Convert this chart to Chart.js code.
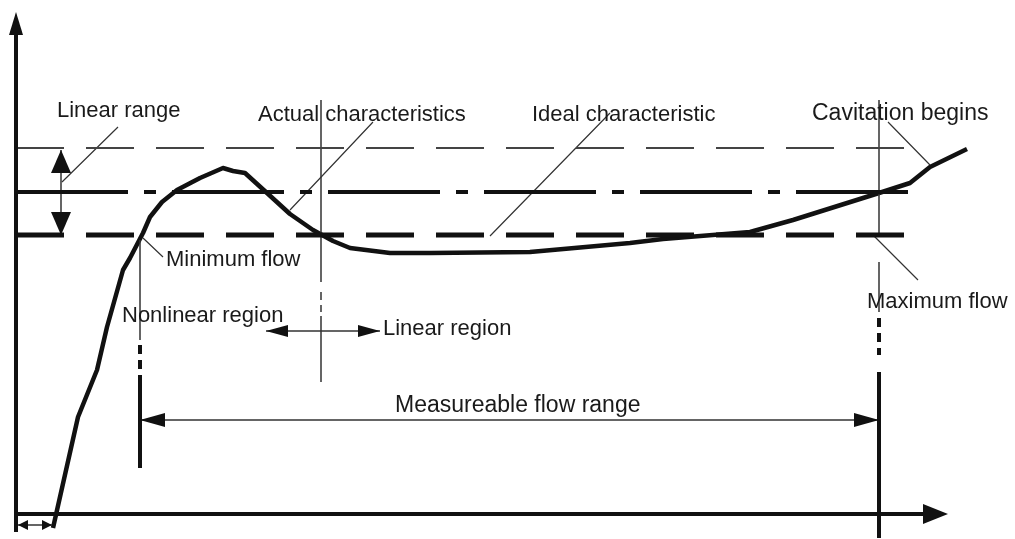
<!DOCTYPE html>
<html>
<head>
<meta charset="utf-8">
<script src="https://cdn.jsdelivr.net/npm/chart.js@4"></script>
<style>
  body { margin: 0; background: #fff; }
  #wrap { width: 1015px; height: 539px; }
</style>
</head>
<body>
<div id="wrap"><canvas id="flowChart" width="1015" height="539"></canvas></div>
<script>
// Diagram units: x grows to the right, y grows upward (0..1015, 0..539)

// Actual meter characteristic
const curveX = [53, 78, 97, 107, 123, 130, 143, 150, 162, 177, 200, 223, 233, 245, 267, 290, 313, 333, 350, 390, 430, 530, 630, 663, 750, 793, 879, 910, 930, 967];
const curveY = [11, 122, 169, 212, 269, 281, 306, 322, 337, 349, 361, 371, 368, 366, 346, 325, 309, 298, 291, 286, 286, 287, 296, 300, 307, 319, 346, 356, 372, 390];

// Horizontal reference levels: upper limit, ideal, lower limit
const levelY = [391, 347, 304];
const levelStart = 16;
const levelEnd = 917;

// Vertical markers: minimum flow, linear boundary, maximum flow
const markerX = [140, 321, 879];

// Arrows and labels
const rangeArrowY = 119;   // measureable flow range
const regionArrowY = 208;  // nonlinear / linear region
const regionArrowX = [266, 380];
const linRangeX = 61;

const labels = ['Linear range', 'Actual characteristics', 'Ideal characteristic', 'Cavitation begins',
                'Minimum flow', 'Nonlinear region', 'Linear region', 'Measureable flow range', 'Maximum flow'];
const labelX = [57, 258, 532, 812, 166, 122, 383, 395, 867];
const labelY = [422, 418, 418, 419, 273, 217, 204, 127, 231];
const labelSize = [22, 22, 22, 23, 22, 22, 22, 23, 22];

// Leader lines from labels to features [x1, y1, x2, y2]
const leaders = [
    [62, 357, 118, 412],
    [290, 329, 373, 417],
    [490, 303, 610, 426],
    [888, 417, 930, 374],
    [873, 304, 918, 259],
    [143, 301, 163, 282]
];

// helper: join several segments into one dataset separated by nulls
const segs = (list) => {
    const out = [];
    list.forEach((s, i) => {
        if (i > 0) out.push({ x: s[0], y: null });
        out.push({ x: s[0], y: s[1] }, { x: s[2], y: s[3] });
    });
    return out;
};

const line = (data, width, color, dash) => ({
    data: data,
    showLine: true,
    borderColor: color,
    borderWidth: width,
    borderDash: dash || [],
    borderCapStyle: 'butt',
    pointRadius: 0,
    spanGaps: false,
    fill: false
});

const datasets = [
    // axes
    line(segs([[16, 7, 16, 505]]), 4, '#111'),
    line(segs([[16, 25, 926, 25]]), 4, '#111'),
    // levels
    line(segs([[levelStart, levelY[0], levelEnd, levelY[0]]]), 2, '#444', [48, 22]),
    line(segs([[levelStart, levelY[1], levelEnd, levelY[1]]]), 4, '#111', [112, 16, 12, 16]),
    line(segs([[levelStart, levelY[2], levelEnd, levelY[2]]]), 5, '#111', [48, 22]),
    // thin marker lines
    line(segs([
        [markerX[0], 299, markerX[0], 199],
        [markerX[1], 439, markerX[1], 257],
        [markerX[1], 223, markerX[1], 157],
        [markerX[2], 439, markerX[2], 302],
        [markerX[2], 277, markerX[2], 227]
    ]), 1.5, '#333'),
    line(segs([[markerX[1], 247, markerX[1], 227]]), 1.5, '#333', [8, 5]),
    // thick marker lines
    line(segs([
        [markerX[0], 194, markerX[0], 168],
        [markerX[2], 221, markerX[2], 184]
    ]), 4, '#111', [9, 6]),
    line(segs([
        [markerX[0], 164, markerX[0], 71],
        [markerX[2], 167, markerX[2], 1]
    ]), 4, '#111'),
    // arrow shafts
    line(segs([
        [markerX[0], rangeArrowY, markerX[2], rangeArrowY],
        [regionArrowX[0], regionArrowY, regionArrowX[1], regionArrowY],
        [linRangeX, 389, linRangeX, 304],
        [18, 14, 52, 14]
    ]), 1.5, '#333'),
    // leader lines
    line(segs(leaders), 1.2, '#333'),
    // curve
    Object.assign(line(curveX.map((x, i) => ({ x: x, y: curveY[i] })), 4.5, '#111'), { borderJoinStyle: 'round' })
];

// arrowheads: tip position in diagram units, direction, length and half width in px
const heads = [
    { x: 16, y: 527, dir: 'up', len: 23, half: 7 },
    { x: 948, y: 25, dir: 'right', len: 25, half: 10 },
    { x: markerX[0], y: rangeArrowY, dir: 'left', len: 25, half: 7 },
    { x: markerX[2], y: rangeArrowY, dir: 'right', len: 25, half: 7 },
    { x: regionArrowX[0], y: regionArrowY, dir: 'left', len: 22, half: 6 },
    { x: regionArrowX[1], y: regionArrowY, dir: 'right', len: 22, half: 6 },
    { x: linRangeX, y: 389, dir: 'up', len: 23, half: 10 },
    { x: linRangeX, y: 304, dir: 'down', len: 23, half: 10 },
    { x: 18, y: 14, dir: 'left', len: 10, half: 5 },
    { x: 52, y: 14, dir: 'right', len: 10, half: 5 }
];

const annotate = {
    id: 'annotate',
    afterDatasetsDraw(chart) {
        const { ctx, scales } = chart;
        const sx = scales.x, sy = scales.y;
        ctx.save();
        ctx.fillStyle = '#111';
        heads.forEach(h => {
            const px = sx.getPixelForValue(h.x);
            const py = sy.getPixelForValue(h.y);
            ctx.beginPath();
            ctx.moveTo(px, py);
            if (h.dir === 'up') { ctx.lineTo(px - h.half, py + h.len); ctx.lineTo(px + h.half, py + h.len); }
            if (h.dir === 'down') { ctx.lineTo(px - h.half, py - h.len); ctx.lineTo(px + h.half, py - h.len); }
            if (h.dir === 'left') { ctx.lineTo(px + h.len, py - h.half); ctx.lineTo(px + h.len, py + h.half); }
            if (h.dir === 'right') { ctx.lineTo(px - h.len, py - h.half); ctx.lineTo(px - h.len, py + h.half); }
            ctx.closePath();
            ctx.fill();
        });

        ctx.fillStyle = '#1a1a1a';
        ctx.textBaseline = 'alphabetic';
        ctx.textAlign = 'left';
        labels.forEach((t, i) => {
            ctx.font = labelSize[i] + 'px "Liberation Sans", Arial, sans-serif';
            ctx.fillText(t, sx.getPixelForValue(labelX[i]), sy.getPixelForValue(labelY[i]));
        });
        ctx.restore();
    }
};

new Chart(document.getElementById('flowChart').getContext('2d'), {
    type: 'scatter',
    data: { datasets: datasets },
    options: {
        responsive: false,
        animation: false,
        layout: { padding: 0 },
        scales: {
            x: { type: 'linear', min: 0, max: 1015, display: false },
            y: { type: 'linear', min: 0, max: 539, display: false }
        },
        plugins: {
            legend: { display: false },
            tooltip: { enabled: false }
        }
    },
    plugins: [annotate]
});
</script>
</body>
</html>
